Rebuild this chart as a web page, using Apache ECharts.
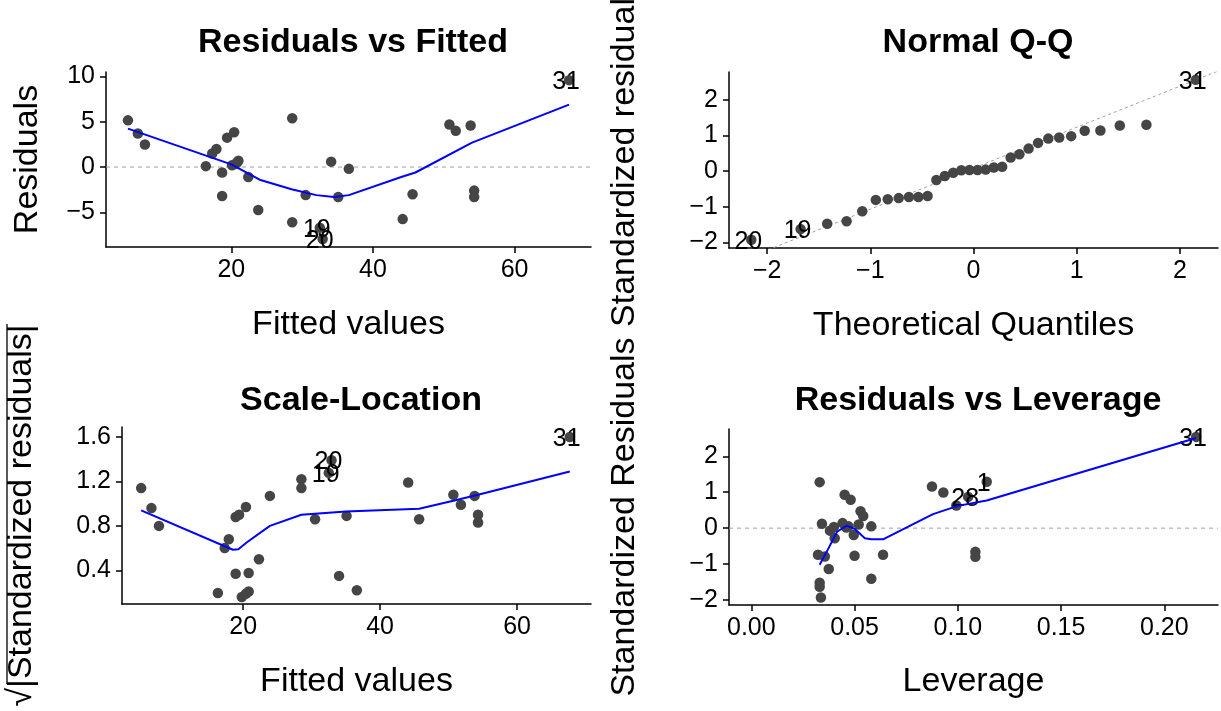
<!DOCTYPE html>
<html>
<head>
<meta charset="utf-8">
<script src="https://cdn.jsdelivr.net/npm/echarts@6/dist/echarts.min.js"></script>
<style>
  html, body { margin: 0; padding: 0; background: #fff; }
  #main { width: 1221px; height: 711px; }
</style>
</head>
<body>
<div id="main"></div>
<script>
// Residuals vs Fitted
const rvfX = [5.4, 6.8, 7.8, 16.4, 17.3, 17.9, 18.7, 18.7, 19.4, 20.4, 20.1, 20.8, 21.0, 22.4, 23.8,
  28.6, 28.6, 30.5, 34.1, 35.1, 36.6, 44.2, 45.6, 50.8, 51.7, 53.8, 54.3, 54.3, 20.6];
const rvfY = [5.16, 3.7, 2.5, 0.1, 1.5, 2.0, -3.2, -0.6, 3.25, 3.85, 0.2, 0.5, 0.7, -1.1, -4.75,
  5.4, -6.1, -3.1, 0.6, -3.3, -0.2, -5.75, -3.0, 4.7, 4.0, 4.6, -2.6, -3.3, 0.35];
const rvfLabelIds = ["31", "19", "20"];
const rvfLabelX = [67.7, 32.5, 32.9];
const rvfLabelY = [9.6, -6.7, -7.95];
const rvfSmoothX = [5.4, 20, 24, 28.5, 32, 34.5, 36.6, 44, 46, 54, 67.7];
const rvfSmoothY = [4.25, 0.3, -1.4, -2.45, -3.1, -3.3, -3.1, -1.1, -0.6, 2.7, 6.9];

// Normal Q-Q
const qqTheo = [-2.154, -1.676, -1.418, -1.230, -1.078, -0.947, -0.831, -0.725, -0.626, -0.534, -0.445,
  -0.360, -0.278, -0.197, -0.118, -0.039, 0.039, 0.118, 0.197, 0.278, 0.360, 0.445, 0.534, 0.626,
  0.725, 0.831, 0.947, 1.078, 1.230, 1.418, 1.676, 2.154];
const qqStd = [-1.93, -1.63, -1.48, -1.41, -1.13, -0.81, -0.79, -0.76, -0.73, -0.73, -0.70,
  -0.25, -0.14, -0.05, 0.02, 0.03, 0.03, 0.04, 0.10, 0.12, 0.38, 0.47, 0.63, 0.79,
  0.91, 0.94, 0.98, 1.13, 1.14, 1.28, 1.30, 2.56];
const qqLabels = { 0: "20", 1: "19", 31: "31" };
const qqSlope = 1.15;
const qqIntercept = 0.08;

// Scale-Location
const slX = [5.1, 6.6, 7.7, 16.3, 17.3, 17.9, 18.9, 19.4, 18.9, 19.8, 20.4, 20.8, 20.8, 22.3, 23.9,
  28.5, 28.5, 30.5, 34.0, 35.1, 36.6, 44.1, 45.7, 50.7, 51.8, 53.8, 54.3, 54.3, 20.4];
const slY = [1.14, 0.96, 0.80, 0.196, 0.60, 0.68, 0.88, 0.90, 0.37, 0.16, 0.97, 0.376, 0.21, 0.50, 1.07,
  1.22, 1.14, 0.86, 0.35, 0.89, 0.22, 1.19, 0.86, 1.08, 0.99, 1.07, 0.90, 0.83, 0.19];
const slLabelIds = ["31", "20", "19"];
const slLabelX = [67.7, 32.9, 32.5];
const slLabelY = [1.60, 1.39, 1.277];
const slSmoothX = [5.1, 18.5, 19.3, 20.5, 23.9, 28.5, 35, 45.7, 51, 54.3, 67.7];
const slSmoothY = [0.94, 0.585, 0.59, 0.65, 0.80, 0.90, 0.93, 0.955, 1.03, 1.08, 1.29];

// Residuals vs Leverage
const levX = [0.0331, 0.0342, 0.0323, 0.0356, 0.0381, 0.0404, 0.0375, 0.0331, 0.0331, 0.0337,
  0.0452, 0.0481, 0.0442, 0.0471, 0.0496, 0.050, 0.0529, 0.0542, 0.0581, 0.0581, 0.0638,
  0.0875, 0.093, 0.0993, 0.1085, 0.1085, 0.040, 0.046, 0.052];
const levY = [1.28, 0.12, -0.74, -0.79, -0.07, -0.28, -1.14, -1.52, -1.63, -1.93,
  0.93, 0.79, 0.14, 0.05, -0.19, -0.77, 0.47, 0.34, 0.05, -1.41, -0.74,
  1.16, 0.99, 0.63, -0.66, -0.80, 0.03, 0.02, 0.10];
const levLabelIds = ["31", "28", "1"];
const levLabelX = [0.2154, 0.105, 0.114];
const levLabelY = [2.54, 0.87, 1.29];
const levSmoothX = [0.0331, 0.0375, 0.0415, 0.0462, 0.050, 0.055, 0.058, 0.0638, 0.088, 0.100, 0.114, 0.2154];
const levSmoothY = [-1.02, -0.55, -0.10, 0.07, -0.02, -0.28, -0.31, -0.31, 0.39, 0.62, 0.77, 2.51];

const FONT = "Liberation Sans";
const POINT = "#454545";
const DOT = 10.5;

function pairs(xs, ys) {
  return xs.map((x, i) => [x, ys[i]]);
}

function minus(v) {
  return String(v).replace("-", "\u2212");
}

function axis(idx, opts) {
  return Object.assign({
    gridIndex: idx,
    type: "value",
    splitLine: { show: false },
    axisLine: { show: true, onZero: false, lineStyle: { color: "#000", width: 1.5 } },
    nameLocation: "middle",
    nameTextStyle: { color: "#000", fontSize: 34, fontFamily: FONT },
  }, opts);
}

function ticks(values, fmt) {
  return {
    axisTick: { show: true, length: 6, customValues: values, lineStyle: { color: "#000", width: 1.5 } },
    axisLabel: {
      color: "#000", fontSize: 25, fontFamily: FONT, margin: 11, customValues: values,
      formatter: fmt || minus,
    },
  };
}

function dots(idx, xs, ys) {
  return {
    type: "scatter", xAxisIndex: idx, yAxisIndex: idx, data: pairs(xs, ys),
    symbolSize: DOT, itemStyle: { color: POINT, opacity: 1 }, silent: true, z: 3,
  };
}

function labelled(idx, ids, xs, ys) {
  return {
    type: "scatter", xAxisIndex: idx, yAxisIndex: idx,
    data: ids.map((id, i) => ({ name: id, value: [xs[i], ys[i]] })),
    symbolSize: DOT, itemStyle: { color: POINT, opacity: 1 }, silent: true, z: 4,
    label: {
      show: true, position: "inside", offset: [-3, 2], formatter: (p) => p.name,
      color: "#000", fontSize: 25, fontFamily: FONT,
    },
  };
}

function smooth(idx, xs, ys) {
  return {
    type: "line", xAxisIndex: idx, yAxisIndex: idx, data: pairs(xs, ys),
    showSymbol: false, silent: true, z: 5,
    lineStyle: { color: "#0000ff", width: 2 },
  };
}

function refLine(idx, data, dash) {
  return {
    type: "line", xAxisIndex: idx, yAxisIndex: idx, data: data,
    showSymbol: false, silent: true, z: 1, clip: true,
    lineStyle: { color: "#a0a0a0", width: 1, type: dash },
  };
}

const grids = [
  { left: 106, top: 72, width: 485, height: 175 },
  { left: 729, top: 72, width: 489, height: 176 },
  { left: 122, top: 427, width: 469, height: 177 },
  { left: 729, top: 429, width: 489, height: 176 },
].map((g) => Object.assign(g, { outerBoundsMode: "none", containLabel: false }));

const xMin = [2.3, -2.37, 2.3, -0.0108];
const xMax = [70.8, 2.37, 70.8, 0.226];

const qqIdx = qqTheo.map((_, i) => i).filter((i) => !(i in qqLabels));
const qqLabIdx = Object.keys(qqLabels).map(Number);

const option = {
  animation: false,
  backgroundColor: "#fff",
  title: [
    { text: "Residuals vs Fitted", left: 348, top: 21, textAlign: "center" },
    { text: "Normal Q-Q", left: 973, top: 21, textAlign: "center" },
    { text: "Scale-Location", left: 356, top: 379, textAlign: "center" },
    { text: "Residuals vs Leverage", left: 973, top: 379, textAlign: "center" },
  ].map((t) => Object.assign(t, {
    textStyle: { fontSize: 34, fontWeight: "bold", color: "#000", fontFamily: FONT },
  })),
  grid: grids,
  xAxis: [
    axis(0, Object.assign({ min: xMin[0], max: xMax[0], name: "Fitted values", nameGap: 61 }, ticks([20, 40, 60]))),
    axis(1, Object.assign({ min: xMin[1], max: xMax[1], name: "Theoretical Quantiles", nameGap: 61 }, ticks([-2, -1, 0, 1, 2]))),
    axis(2, Object.assign({ min: xMin[2], max: xMax[2], name: "Fitted values", nameGap: 61 }, ticks([20, 40, 60]))),
    axis(3, Object.assign({ min: xMin[3], max: xMax[3], name: "Leverage", nameGap: 60 },
      ticks([0, 0.05, 0.1, 0.15, 0.2], (v) => v.toFixed(2)))),
  ],
  yAxis: [
    axis(0, Object.assign({ min: -8.83, max: 10.5, name: "Residuals", nameGap: 61 }, ticks([-5, 0, 5, 10]))),
    axis(1, Object.assign({
      min: -2.16, max: 2.78, name: "Standardized residuals", nameGap: 87,
      nameTextStyle: { color: "#000", fontSize: 34, fontFamily: FONT, padding: [0, 0, 0, 12] },
    }, ticks([-2, -1, 0, 1, 2]))),
    axis(2, Object.assign({ min: 0.097, max: 1.69, name: "\u221A|Standardized residuals|", nameGap: 83 },
      ticks([0.4, 0.8, 1.2, 1.6], (v) => v.toFixed(1)))),
    axis(3, Object.assign({ min: -2.14, max: 2.76, name: "Standardized Residuals", nameGap: 87 }, ticks([-2, -1, 0, 1, 2]))),
  ],
  graphic: [
    // overbar of the square root in the Scale-Location axis title
    { type: "line", shape: { x1: 7, y1: 324, x2: 7, y2: 684 }, style: { stroke: "#000", lineWidth: 1.3 }, silent: true },
  ],
  series: [
    refLine(0, [[xMin[0], 0], [xMax[0], 0]], [4, 4]),
    dots(0, rvfX, rvfY),
    labelled(0, rvfLabelIds, rvfLabelX, rvfLabelY),
    smooth(0, rvfSmoothX, rvfSmoothY),

    refLine(1, [[xMin[1], qqIntercept + qqSlope * xMin[1]], [xMax[1], qqIntercept + qqSlope * xMax[1]]], [3, 3]),
    dots(1, qqIdx.map((i) => qqTheo[i]), qqIdx.map((i) => qqStd[i])),
    labelled(1, qqLabIdx.map((i) => qqLabels[i]), qqLabIdx.map((i) => qqTheo[i]), qqLabIdx.map((i) => qqStd[i])),

    dots(2, slX, slY),
    labelled(2, slLabelIds, slLabelX, slLabelY),
    smooth(2, slSmoothX, slSmoothY),

    refLine(3, [[xMin[3], 0], [xMax[3], 0]], [4, 4]),
    dots(3, levX, levY),
    labelled(3, levLabelIds, levLabelX, levLabelY),
    smooth(3, levSmoothX, levSmoothY),
  ],
};

const myChart = echarts.init(document.getElementById("main"));
myChart.setOption(option);
</script>
</body>
</html>
